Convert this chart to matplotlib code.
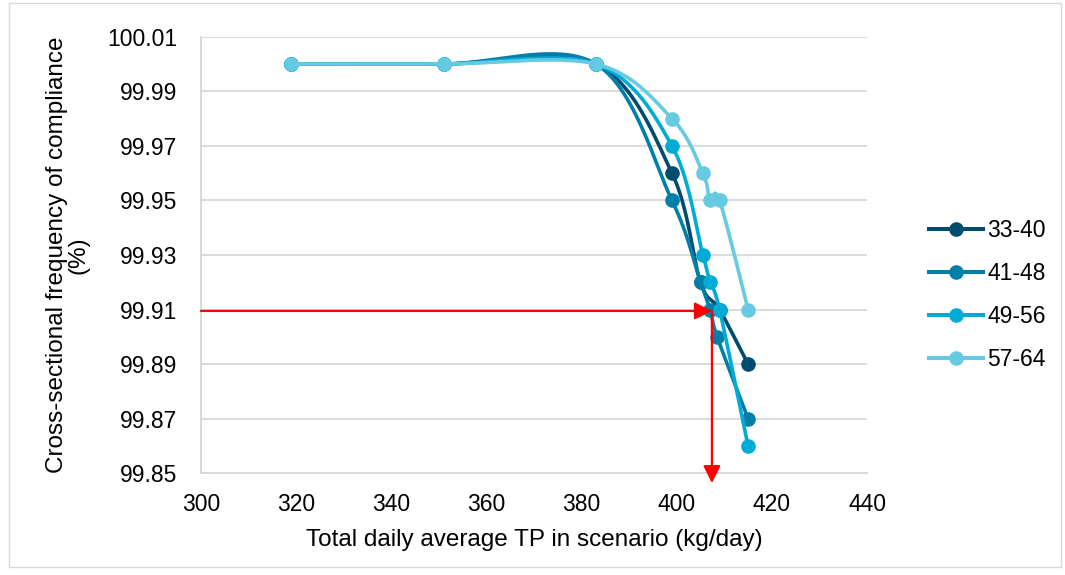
import numpy as np
import matplotlib
matplotlib.use('Agg')
import matplotlib.pyplot as plt
from matplotlib.lines import Line2D
from matplotlib.patches import Rectangle

# Data
series_names = ['33-40', '41-48', '49-56', '57-64']
x_33_40 = [319, 351, 383, 399, 405, 409, 415]
y_33_40 = [100.00, 100.00, 100.00, 99.96, 99.92, 99.91, 99.89]
x_41_48 = [319, 351, 383, 399, 405, 407, 408.5, 415]
y_41_48 = [100.00, 100.00, 100.00, 99.95, 99.92, 99.91, 99.90, 99.87]
x_49_56 = [319, 351, 383, 399, 405.5, 407, 409, 415]
y_49_56 = [100.00, 100.00, 100.00, 99.97, 99.93, 99.92, 99.91, 99.86]
x_57_64 = [319, 351, 383, 399, 405.5, 407, 409, 415]
y_57_64 = [100.00, 100.00, 100.00, 99.98, 99.96, 99.95, 99.95, 99.91]

x_ticks = [300, 320, 340, 360, 380, 400, 420, 440]
y_ticks = [99.85, 99.87, 99.89, 99.91, 99.93, 99.95, 99.97, 99.99, 100.01]

# red read-off arrows
arrow_x = 407.4
arrow_y = 99.9095
arrow_bottom = 99.8464

colors = ['#004C6E', '#0080A8', '#00ACD6', '#66CBE2']


def smooth(xs, ys, n=40):
    # excel style smoothed line (bezier with catmull-rom control points)
    pts = np.column_stack([xs, ys]).astype(float)
    out = [pts[0]]
    t = np.linspace(0, 1, n)[1:, None]
    for i in range(len(pts) - 1):
        p0 = pts[i - 1] if i > 0 else pts[i]
        p1 = pts[i]
        p2 = pts[i + 1]
        p3 = pts[i + 2] if i + 2 < len(pts) else pts[i + 1]
        c1 = p1 + (p2 - p0) / 6
        c2 = p2 - (p3 - p1) / 6
        seg = (1 - t) ** 3 * p1 + 3 * (1 - t) ** 2 * t * c1 + 3 * (1 - t) * t ** 2 * c2 + t ** 3 * p2
        out.extend(seg)
    out = np.array(out)
    return out[:, 0], out[:, 1]


plt.rcParams['font.family'] = ['Liberation Sans', 'DejaVu Sans']
fig = plt.figure(figsize=(10.65, 5.75), dpi=100)
ax = fig.add_axes([0.1887, 0.1769, 0.6254, 0.7593])

all_x = [x_33_40, x_41_48, x_49_56, x_57_64]
all_y = [y_33_40, y_41_48, y_49_56, y_57_64]

handles = []
for xs, ys, c, name in zip(all_x, all_y, colors, series_names):
    sx, sy = smooth(xs, ys)
    ax.plot(sx, sy, color=c, lw=2.6, solid_capstyle='round', zorder=3)
    ax.plot(xs, ys, 'o', color=c, ms=10.5, mew=0, zorder=3)
    handles.append(Line2D([0], [0], color=c, lw=2.9, marker='o', ms=10.5, mew=0, label=name))

# arrows
ax.annotate('', xy=(arrow_x, arrow_y), xytext=(300, arrow_y),
            arrowprops=dict(arrowstyle='-|>', color='red', lw=1.6, mutation_scale=26,
                            shrinkA=0, shrinkB=0), annotation_clip=False, zorder=5)
ax.annotate('', xy=(arrow_x, arrow_bottom), xytext=(arrow_x, arrow_y),
            arrowprops=dict(arrowstyle='-|>', color='red', lw=1.6, mutation_scale=26,
                            shrinkA=0, shrinkB=0), annotation_clip=False, zorder=5)

ax.set_xlim(300, 440)
ax.set_ylim(99.85, 100.01)
ax.set_xticks(x_ticks)
ax.set_yticks(y_ticks)
ax.set_yticklabels(['%.2f' % v for v in y_ticks])
ax.tick_params(axis='both', length=0, labelsize=16.5, colors='black')
ax.tick_params(axis='y', pad=17)
ax.tick_params(axis='x', pad=14)
ax.grid(axis='y', color='#D9D9D9', lw=1.3)
ax.set_axisbelow(True)
for s in ['top', 'right']:
    ax.spines[s].set_visible(False)
ax.spines['bottom'].set_color('#D9D9D9')
ax.spines['bottom'].set_linewidth(1.3)
ax.spines['left'].set_color('#D0D8E0')
ax.spines['left'].set_linewidth(1.3)

ax.set_xlabel('Total daily average TP in scenario (kg/day)', fontsize=17.5)
ax.set_ylabel('Cross-sectional frequency of compliance\n(%)', fontsize=17.5, linespacing=0.95)
ax.yaxis.set_label_coords(-0.168, 0.5)
ax.xaxis.set_label_coords(0.5, -0.128)

fig.legend(handles=handles, loc='center left', bbox_to_anchor=(0.872, 0.487),
           frameon=False, fontsize=16.5, handlelength=2.35, handletextpad=0.2,
           labelspacing=0.87, borderpad=0, borderaxespad=0)

# chart border
fig.patches.append(Rectangle((0.008, 0.014), 0.988, 0.98, transform=fig.transFigure,
                             fill=False, edgecolor='#D9D9D9', lw=1))

fig.savefig('out.png', dpi=100)
